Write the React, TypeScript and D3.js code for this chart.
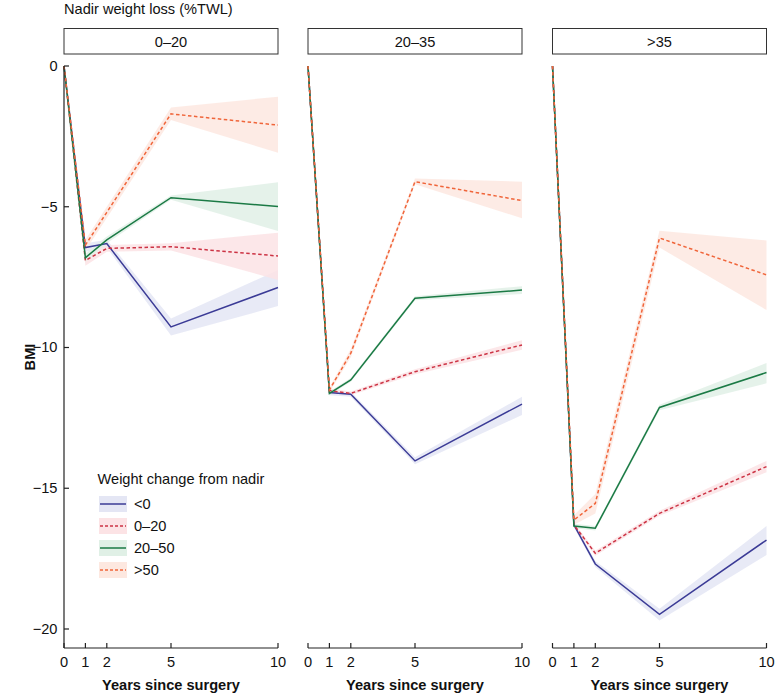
import React from "react";
import * as d3 from "d3";

// x positions (years since surgery)
const years = [0, 1, 2, 5, 10];
const xTicks = [0, 1, 2, 5, 10];
const yTicks = [0, -5, -10, -15, -20];

// facets: nadir weight loss (%TWL)
const panelLabels = ["0–20", "20–35", ">35"];
// series: weight change from nadir
const groups = ["<0", "0–20", "20–50", ">50"];
const lineColors = ["#3b3b96", "#cc3344", "#1b7a45", "#f0653a"];
const bandColors = ["#e4e6f4", "#fce3e5", "#e0f0e6", "#fde8e0"];
const dashed = [false, true, false, true];

// panel 0–20: BMI change, estimate + CI per group
const mean0to20 = [
  [0, -6.45, -6.31, -9.27, -7.87],
  [0, -6.91, -6.48, -6.42, -6.75],
  [0, -6.81, -6.18, -4.68, -4.99],
  [0, -6.36, -5.2, -1.7, -2.1],
];
const lower0to20 = [
  [0, -6.6, -6.45, -9.57, -8.53],
  [0, -7.1, -6.6, -6.55, -7.6],
  [0, -6.95, -6.3, -4.75, -5.86],
  [0, -6.55, -5.4, -1.92, -3.08],
];
const upper0to20 = [
  [0, -6.3, -6.17, -8.97, -7.25],
  [0, -6.72, -6.36, -6.3, -5.92],
  [0, -6.67, -6.06, -4.6, -4.13],
  [0, -6.17, -5.0, -1.47, -1.09],
];

// panel 20–35
const mean20to35 = [
  [0, -11.6, -11.66, -14.03, -12.01],
  [0, -11.53, -11.63, -10.86, -9.91],
  [0, -11.63, -11.15, -8.25, -7.96],
  [0, -11.51, -10.2, -4.11, -4.78],
];
const lower20to35 = [
  [0, -11.7, -11.75, -14.15, -12.4],
  [0, -11.6, -11.7, -10.95, -10.08],
  [0, -11.7, -11.22, -8.32, -8.1],
  [0, -11.6, -10.35, -4.2, -5.41],
];
const upper20to35 = [
  [0, -11.5, -11.57, -13.9, -11.75],
  [0, -11.46, -11.56, -10.77, -9.74],
  [0, -11.56, -11.08, -8.18, -7.82],
  [0, -11.42, -10.05, -4.0, -4.11],
];

// panel >35
const mean35plus = [
  [0, -16.3, -17.69, -19.48, -16.84],
  [0, -16.3, -17.31, -15.89, -14.23],
  [0, -16.34, -16.42, -12.13, -10.89],
  [0, -16.13, -15.54, -6.11, -7.42],
];
const lower35plus = [
  [0, -16.38, -17.8, -19.7, -17.37],
  [0, -16.38, -17.4, -15.98, -14.43],
  [0, -16.42, -16.5, -12.23, -11.27],
  [0, -16.3, -15.9, -6.45, -8.67],
];
const upper35plus = [
  [0, -16.22, -17.58, -19.28, -16.34],
  [0, -16.22, -17.22, -15.8, -14.03],
  [0, -16.26, -16.34, -12.03, -10.55],
  [0, -15.96, -15.2, -5.85, -6.2],
];

const means = [mean0to20, mean20to35, mean35plus];
const lowers = [lower0to20, lower20to35, lower35plus];
const uppers = [upper0to20, upper20to35, upper35plus];

const W = 775;
const H = 694;
const font = "'Liberation Sans', Arial, Helvetica, sans-serif";
const fs = 14.6;
const panelLeft = [64, 308, 552.5];
const panelWidth = 214;
const plotTop = 66;
const plotBottom = 648;

const App: React.FC = () => {
  const y = d3.scaleLinear().domain([-20.675, 0]).range([plotBottom, plotTop]);

  return (
    <svg
      width={W}
      height={H}
      style={{ position: "absolute", left: 0, top: 0, background: "#fff" }}
      fontFamily={font}
    >
      <text x={64} y={13.5} fontSize={fs} fill="#111">
        Nadir weight loss (%TWL)
      </text>

      {panelLabels.map((label, p) => {
        const x0 = panelLeft[p];
        const x = d3.scaleLinear().domain([0, 10]).range([x0, x0 + panelWidth]);
        const line = d3
          .line<number>()
          .x((_, i) => x(years[i]))
          .y((d) => y(d));
        return (
          <g key={label}>
            {/* strip */}
            <rect
              x={x0}
              y={28.5}
              width={panelWidth}
              height={25.5}
              fill="#fff"
              stroke="#333"
              strokeWidth={1}
            />
            <text x={x0 + panelWidth / 2} y={46.5} fontSize={fs} textAnchor="middle" fill="#111">
              {label}
            </text>

            {/* bands */}
            {groups.map((g, k) => {
              const band = d3
                .area<number>()
                .x((_, i) => x(years[i]))
                .y0((_, i) => y(lowers[p][k][i]))
                .y1((d) => y(d));
              return <path key={"b" + g} d={band(uppers[p][k]) || ""} fill={bandColors[k]} opacity={0.85} />;
            })}

            {/* lines */}
            {groups.map((g, k) => (
              <path
                key={"l" + g}
                d={line(means[p][k]) || ""}
                fill="none"
                stroke={lineColors[k]}
                strokeWidth={1.5}
                strokeDasharray={dashed[k] ? "3.5,2.5" : undefined}
              />
            ))}

            {/* x axis */}
            <line x1={x0} x2={x0 + panelWidth} y1={plotBottom} y2={plotBottom} stroke="#222" strokeWidth={1.2} />
            {xTicks.map((t) => (
              <g key={"xt" + t}>
                <line x1={x(t)} x2={x(t)} y1={plotBottom} y2={plotBottom - 5} stroke="#222" strokeWidth={1.2} />
                <text x={x(t)} y={667} fontSize={fs} textAnchor="middle" fill="#111">
                  {t}
                </text>
              </g>
            ))}
            <text
              x={x0 + panelWidth / 2}
              y={690}
              fontSize={fs}
              fontWeight="bold"
              textAnchor="middle"
              fill="#111"
            >
              Years since surgery
            </text>
          </g>
        );
      })}

      {/* y axis (first panel only) */}
      <line x1={64} x2={64} y1={plotTop} y2={plotBottom} stroke="#222" strokeWidth={1.2} />
      {yTicks.map((t) => (
        <g key={"yt" + t}>
          <line x1={64} x2={69} y1={y(t)} y2={y(t)} stroke="#222" strokeWidth={1.2} />
          <text x={57.5} y={y(t) + 5} fontSize={fs} textAnchor="end" fill="#111">
            {t === 0 ? "0" : "\u2212" + Math.abs(t)}
          </text>
        </g>
      ))}
      <text
        transform={`translate(35,${(plotTop + plotBottom) / 2}) rotate(-90)`}
        fontSize={fs}
        fontWeight="bold"
        textAnchor="middle"
        fill="#111"
      >
        BMI
      </text>

      {/* legend */}
      <text x={97.5} y={483.5} fontSize={fs} fill="#111">
        Weight change from nadir
      </text>
      {groups.map((g, k) => {
        const cy = 504 + k * 22;
        return (
          <g key={"lg" + g}>
            <rect x={99} y={cy - 8} width={28} height={16} fill={bandColors[k]} />
            <line
              x1={100}
              x2={126}
              y1={cy}
              y2={cy}
              stroke={lineColors[k]}
              strokeWidth={1.5}
              strokeDasharray={dashed[k] ? "3,2" : undefined}
            />
            <text x={134} y={cy + 5} fontSize={fs} fill="#111">
              {g}
            </text>
          </g>
        );
      })}
    </svg>
  );
};

export default App;
